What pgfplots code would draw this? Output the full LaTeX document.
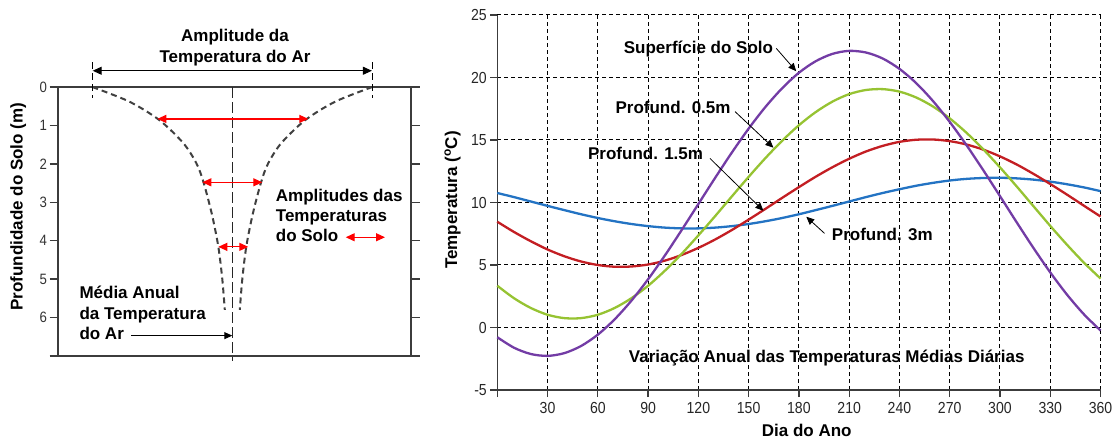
\documentclass[border=0pt]{standalone}
\usepackage{fontspec}
\setmainfont{Liberation Sans}
\newfontfamily\numfont[FakeStretch=0.88]{Liberation Sans}
\usepackage{pgfplots}
\usepackage{pgfplotstable}
\pgfplotsset{compat=1.18}
\usetikzlibrary{arrows.meta}

\definecolor{cSup}{RGB}{115,60,165}
\definecolor{cP05}{RGB}{150,195,50}
\definecolor{cP15}{RGB}{195,30,35}
\definecolor{cP3}{RGB}{35,115,195}
\definecolor{cEixo}{RGB}{60,60,60}

% Temperaturas medias diarias (oC) ao longo do ano
\pgfplotstableread{
dia   sup    p05    p15    p3
0    -0.78   3.34   8.46  10.76
10   -1.62   2.34   7.64  10.43
20   -2.12   1.56   6.90  10.08
30   -2.27   1.02   6.24   9.73
40   -2.05   0.75   5.70   9.39
50   -1.48   0.75   5.28   9.06
60   -0.57   1.02   5.00   8.76
70    0.65   1.56   4.86   8.50
80    2.14   2.34   4.88   8.28
90    3.86   3.34   5.04   8.11
100   5.76   4.54   5.35   7.99
110   7.79   5.89   5.80   7.93
120   9.88   7.37   6.37   7.93
130  11.97   8.91   7.04   7.99
140  14.00  10.49   7.80   8.11
150  15.91  12.05   8.63   8.28
160  17.64  13.55   9.49   8.50
170  19.14  14.94  10.37   8.76
180  20.38  16.18  11.23   9.06
190  21.30  17.23  12.06   9.39
200  21.89  18.07  12.82   9.73
210  22.13  18.67  13.50  10.08
220  22.00  19.00  14.08  10.43
230  21.52  19.07  14.53  10.76
240  20.69  18.87  14.85  11.06
250  19.55  18.40  15.02  11.34
260  18.12  17.68  15.04  11.57
270  16.45  16.73  14.91  11.76
280  14.59  15.58  14.64  11.89
290  12.59  14.26  14.23  11.96
300  10.51  12.81  13.69  11.98
310   8.41  11.28  13.04  11.93
320   6.36   9.70  12.29  11.83
330   4.41   8.13  11.48  11.67
340   2.63   6.62  10.63  11.46
350   1.07   5.20   9.75  11.21
360  -0.24   3.92   8.88  10.91
}\temps

% Semi-amplitude da temperatura em funcao da profundidade
\pgfplotstableread{
prof  amp
0     140
0.38  103
0.86  73
1.46  49
1.98  36
2.46  29
3.30  20.5
4.15  14
5.00  10
5.80  7.5
}\amort

\tikzset{
  rotulo/.style={font=\bfseries\fontsize{17}{20}\selectfont, inner sep=0pt},
  seta/.style={-{Triangle[length=8pt,width=7pt]}},
  dupla/.style={{Triangle[length=9pt,width=8pt]}-{Triangle[length=9pt,width=8pt]}},
}

\begin{document}
\begin{tikzpicture}[x=1pt,y=1pt]
\useasboundingbox (0,0) rectangle (1115,439);

% ---------- Perfil de amplitudes no solo ----------
\begin{axis}[
  at={(58pt,83pt)}, anchor=south west,
  scale only axis, width=353pt, height=269pt,
  xmin=-174.3, xmax=178.7, ymin=0, ymax=7, y dir=reverse,
  clip=false,
  xtick=\empty,
  ytick={0,1,...,7}, yticklabels={0,1,2,3,4,5,6,{}},
  ytick pos=both, yticklabel pos=left,
  tick align=outside, major tick length=8.5pt,
  axis line style={line width=1.3pt, cEixo},
  every tick/.style={line width=1.3pt, cEixo},
  tick label style={font=\numfont\fontsize{15}{16}\selectfont, text=black!80},
  yticklabel style={xshift=1pt},
]
  \addplot[black!75, line width=2pt, dash pattern=on 6pt off 4pt, smooth]
    table[x expr=-\thisrow{amp}, y=prof]{\amort};
  \addplot[black!75, line width=2pt, dash pattern=on 6pt off 4pt, smooth]
    table[x=amp, y=prof]{\amort};
  % eixo da media anual
  \addplot[black!85, line width=1pt, dash pattern=on 11pt off 4pt]
    coordinates {(0,0) (0,7.12)};
  % amplitude do ar
  \addplot[black, line width=1pt, dash pattern=on 7pt off 4pt]
    coordinates {(-139.8,-0.65) (-139.8,0.29)};
  \addplot[black, line width=1pt, dash pattern=on 7pt off 4pt]
    coordinates {(139.8,-0.65) (139.8,0.29)};
  \addplot[black, line width=1pt, dupla] coordinates {(-139.6,-0.423) (139.6,-0.423)};
  % amplitudes no solo
  \addplot[red, line width=1.2pt, dupla] coordinates {(-75,0.83) (76,0.83)};
  \addplot[red, line width=1.2pt, dupla] coordinates {(-30,2.48) (30,2.48)};
  \addplot[red, line width=1.2pt, dupla] coordinates {(-14,4.16) (16,4.16)};
  \addplot[red, line width=1.2pt, dupla] coordinates {(113.4,3.91) (152.7,3.91)};
  \addplot[black, line width=1pt, seta] coordinates {(-101.3,6.47) (0,6.47)};

  \node[rotulo, anchor=base] at (axis cs:2.7,-1.175) {Amplitude da};
  \node[rotulo, anchor=base] at (axis cs:2.7,-0.639) {Temperatura do Ar};
  \node[rotulo, anchor=base west] at (axis cs:43.4,2.979) {Amplitudes das};
  \node[rotulo, anchor=base west] at (axis cs:43.4,3.499) {Temperaturas};
  \node[rotulo, anchor=base west] at (axis cs:43.4,4.026) {do Solo};
  \node[rotulo, anchor=base west] at (axis cs:-153,5.514) {Média Anual};
  \node[rotulo, anchor=base west] at (axis cs:-153,6.052) {da Temperatura};
  \node[rotulo, anchor=base west] at (axis cs:-153,6.571) {do Ar};
\end{axis}
\node[rotulo, rotate=90] at (18.3,232.3) {Profundidade do Solo (m)};

% ---------- Variacao anual das temperaturas ----------
\begin{axis}[
  at={(497.3pt,49pt)}, anchor=south west,
  scale only axis, width=603.2pt, height=375pt,
  xmin=0, xmax=360, ymin=-5, ymax=25,
  axis lines*=left,
  clip=false,
  xtick={0,30,...,360},
  xticklabels={{},30,60,90,120,150,180,210,240,270,300,330,360},
  ytick={-5,0,...,25},
  grid=major,
  major grid style={black, line width=1pt, dash pattern=on 4pt off 3pt},
  tick align=outside, major tick length=7pt,
  axis line style={line width=1.3pt, cEixo},
  every tick/.style={line width=1.3pt, cEixo},
  tick label style={font=\numfont\fontsize{16}{17}\selectfont, text=black!85},
  xticklabel style={yshift=-2pt},
  /pgf/number format/assume math mode=true,
]
  \addplot[cP3,  line width=2.3pt, smooth] table[x=dia, y=p3]{\temps};
  \addplot[cP15, line width=2.3pt, smooth] table[x=dia, y=p15]{\temps};
  \addplot[cP05, line width=2.3pt, smooth] table[x=dia, y=p05]{\temps};
  \addplot[cSup, line width=2.3pt, smooth] table[x=dia, y=sup]{\temps};

  \addplot[black, line width=0.8pt, seta] coordinates {(166.5,22.33) (178.4,20.5)};
  \addplot[black, line width=0.8pt, seta] coordinates {(141.9,17.27) (164.8,14.38)};
  \addplot[black, line width=0.8pt, seta] coordinates {(126.9,13.53) (158.8,9.34)};
  \addplot[black, line width=0.8pt, seta] coordinates {(195.3,7.53) (184.4,8.86)};

  \node[rotulo, anchor=base east] at (axis cs:164.7,21.93) {Superfície do Solo};
  \node[rotulo, anchor=base east] at (axis cs:139.3,17.14) {Profund. 0.5m};
  \node[rotulo, anchor=base east] at (axis cs:122.9,13.40) {Profund. 1.5m};
  \node[rotulo, anchor=base west] at (axis cs:199.6,6.95) {Profund. 3m};
  \node[rotulo, anchor=base] at (axis cs:196.6,-2.79) {Variação Anual das Temperaturas Médias Diárias};
\end{axis}
\node[rotulo, rotate=90] at (452.5,239) {Temperatura (\textsuperscript{o}C)};
\node[rotulo, anchor=base] at (806.7,2.5) {Dia do Ano};
\end{tikzpicture}
\end{document}
